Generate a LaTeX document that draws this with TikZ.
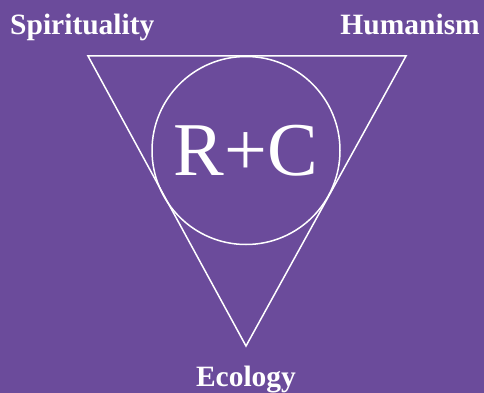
\documentclass[tikz,border=0pt]{standalone}
\usepackage{fontspec}
\setmainfont{Liberation Serif}
\usetikzlibrary{positioning}
\definecolor{rcpurple}{RGB}{107,75,155}

\begin{document}
\begin{tikzpicture}[x=1pt,y=-1pt,
    lbl/.style={text=white,font=\bfseries\fontsize{29.5}{29.5}\selectfont,inner sep=0pt},
    wline/.style={draw=white,line width=1.5pt}]
  \fill[rcpurple] (0,0) rectangle (484,393);
  \useasboundingbox (0,0) rectangle (484,393);
  % triangle and circle
  \coordinate (tl) at (88,56);
  \coordinate (tr) at (406,56);
  \coordinate (bot) at (246,346);
  \draw[wline] (tl) -- (tr) -- (bot) -- cycle;
  \node[wline,circle,minimum size=188pt,inner sep=0pt] (ring) at (246,150.5) {};
  \node[text=white,font=\fontsize{76}{76}\selectfont,inner sep=0pt] (rc) at (246,151) {R+C};
  % labels
  \node[lbl,anchor=base west] (spirit) at (10,35) {Spirituality};
  \node[lbl,anchor=base east] (human) at (480,35) {Humanism};
  \node[lbl,anchor=base] (eco) at (246,386) {Ecology};
\end{tikzpicture}
\end{document}
